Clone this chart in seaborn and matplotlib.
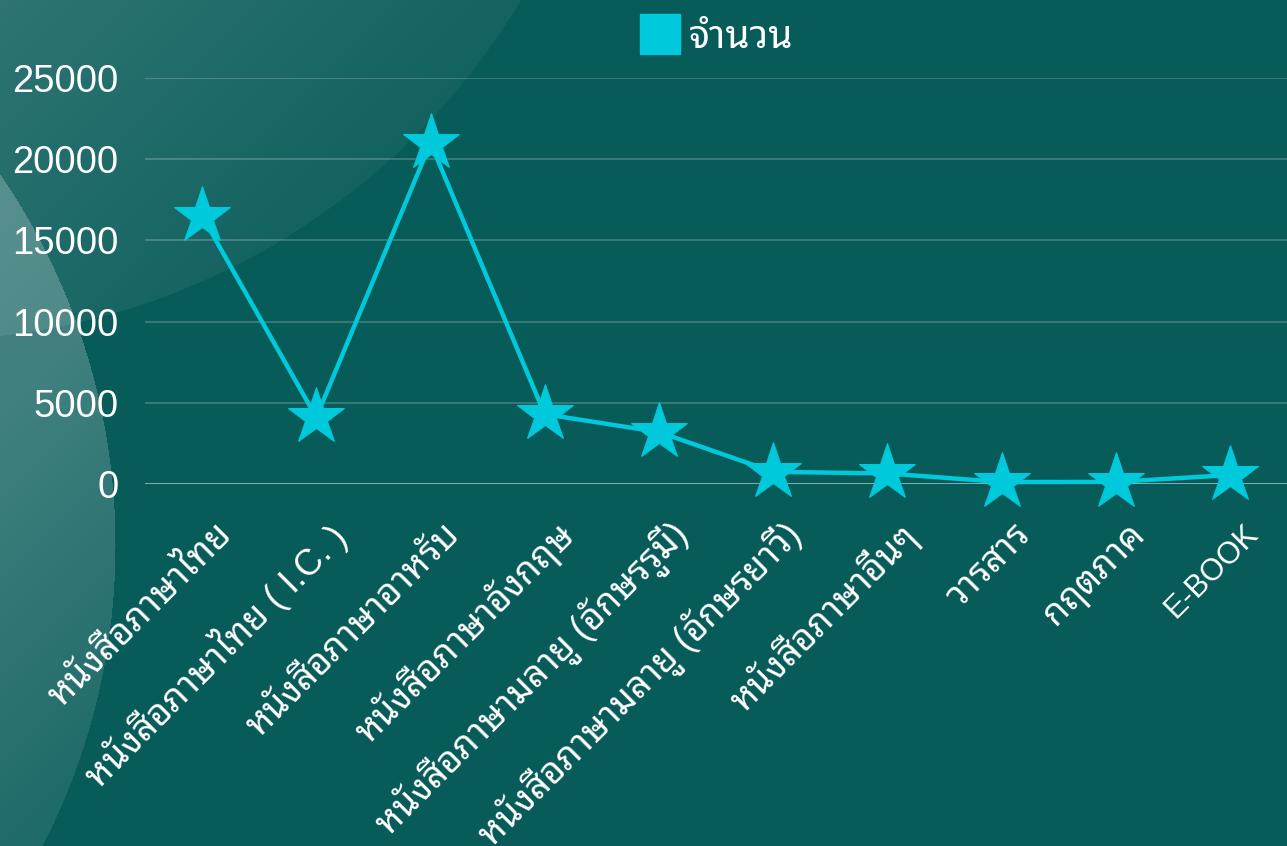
import numpy as np
import pandas as pd
import matplotlib
matplotlib.use("Agg")
import matplotlib.pyplot as plt
import matplotlib.transforms as mtransforms
from matplotlib.lines import Line2D
from matplotlib import font_manager, ft2font
import seaborn as sns

# ---------------- data ----------------
categories = [
    "หนังสือภาษาไทย",
    "หนังสือภาษาไทย ( I.C. )",
    "หนังสือภาษาอาหรับ",
    "หนังสือภาษาอังกฤษ",
    "หนังสือภาษามลายู (อักษรรูมี)",
    "หนังสือภาษามลายู (อักษรยาวี)",
    "หนังสือภาษาอื่นๆ",
    "วารสาร",
    "กฤตภาค",
    "E-BOOK",
]
values = [16500, 4100, 21000, 4300, 3200, 750, 650, 120, 130, 550]
series_name = "จำนวน"
y_ticks = [0, 5000, 10000, 15000, 20000, 25000]

# ---------------- fonts ----------------
def find_thai_font():
    preferred = ["Noto Sans Thai Looped", "Sarabun", "Loma", "Noto Sans Thai", "Garuda"]
    found = set()
    for f in font_manager.fontManager.ttflist:
        try:
            ft = ft2font.FT2Font(f.fname)
            if 0x0E2B in ft.get_charmap():
                found.add(f.name)
        except Exception:
            pass
    for p in preferred:
        if p in found:
            return p
    return sorted(found)[0] if found else "DejaVu Sans"

thai = find_thai_font()
latin = "Liberation Sans"

sns.set_theme(style="white")
plt.rcParams["font.family"] = [latin, thai, "DejaVu Sans"]

BG = np.array([7, 91, 89]) / 255.0
CYAN = "#00c9db"

W, H = 1287, 846
fig = plt.figure(figsize=(W / 100, H / 100), dpi=100)
fig.patch.set_facecolor(BG)

# ---------------- decorative background circles ----------------
bg_ax = fig.add_axes([0, 0, 1, 1], zorder=-10)
yy, xx = np.mgrid[0:H, 0:W].astype(float)
img = np.ones((H, W, 3)) * BG
in1 = (xx + 80) ** 2 + (yy + 360) ** 2 <= 700 ** 2
a1 = (0.035 + 0.12 * np.clip(1 - (xx + yy) / 600.0, 0, 1)) * in1
img = img + a1[..., None] * (1 - img)
in2 = (xx + 540) ** 2 + (yy - 545) ** 2 <= 655 ** 2
a2 = np.clip(0.23 - 0.12 * (yy - 420) / 400.0 - 0.0003 * xx, 0.1, 0.23) * in2
img = img + a2[..., None] * (1 - img)
bg_ax.imshow(img, extent=[0, W, H, 0], aspect="auto", interpolation="bilinear")
bg_ax.set_axis_off()

# ---------------- main axes ----------------
ax = fig.add_axes([145 / W, 1 - 484 / H, (W - 145) / W, (484 - 78) / H])
ax.set_facecolor("none")

df = pd.DataFrame({"category": categories, "value": values})
sns.lineplot(data=df, x="category", y="value", sort=False, ax=ax,
             color=CYAN, linewidth=3.2, marker="*", markersize=43,
             markeredgecolor=CYAN, clip_on=False, zorder=5)

ax.set_xlim(-0.5, len(categories) - 0.5)
ax.set_ylim(0, 25000)
ax.set_yticks(y_ticks)
ax.set_yticklabels([str(v) for v in y_ticks])
for s in ax.spines.values():
    s.set_visible(False)
ax.grid(False)
for v in y_ticks:
    if v == 0:
        ax.axhline(v, color="white", alpha=0.65, lw=1.1, zorder=1)
    else:
        ax.axhline(v, color="white", alpha=0.25, lw=1.1, zorder=1)

ax.set_xlabel("")
ax.set_ylabel("")
ax.tick_params(axis="both", length=0)
ax.tick_params(axis="y", pad=19, labelsize=27.5, labelcolor="white")
ax.set_xticks(range(len(categories)))
ax.set_xticklabels(categories, rotation=45, ha="right", va="center",
                   rotation_mode="anchor", color="white",
                   family=[latin, thai, "DejaVu Sans"])
offset = mtransforms.ScaledTranslation(24 / 100, -41 / 100, fig.dpi_scale_trans)
for lab in ax.get_xticklabels():
    txt = lab.get_text()
    has_thai = any("\u0e00" <= ch <= "\u0e7f" for ch in txt)
    if has_thai:
        lab.set_fontsize(26)
    else:
        lab.set_family([latin, "DejaVu Sans"])
        lab.set_fontsize(22)
    lab.set_transform(lab.get_transform() + offset)
for lab in ax.get_yticklabels():
    lab.set_family([latin, "DejaVu Sans"])

handle = Line2D([], [], marker="s", ls="", color=CYAN, markersize=29)
leg = fig.legend([handle], [series_name], loc="center",
                 bbox_to_anchor=(717 / W, 1 - 38 / H), frameon=False,
                 handletextpad=0.25, handlelength=1.0,
                 prop={"family": [thai, latin], "size": 28})
for t in leg.get_texts():
    t.set_color("white")

fig.savefig("out.png", dpi=100, facecolor=fig.get_facecolor())
